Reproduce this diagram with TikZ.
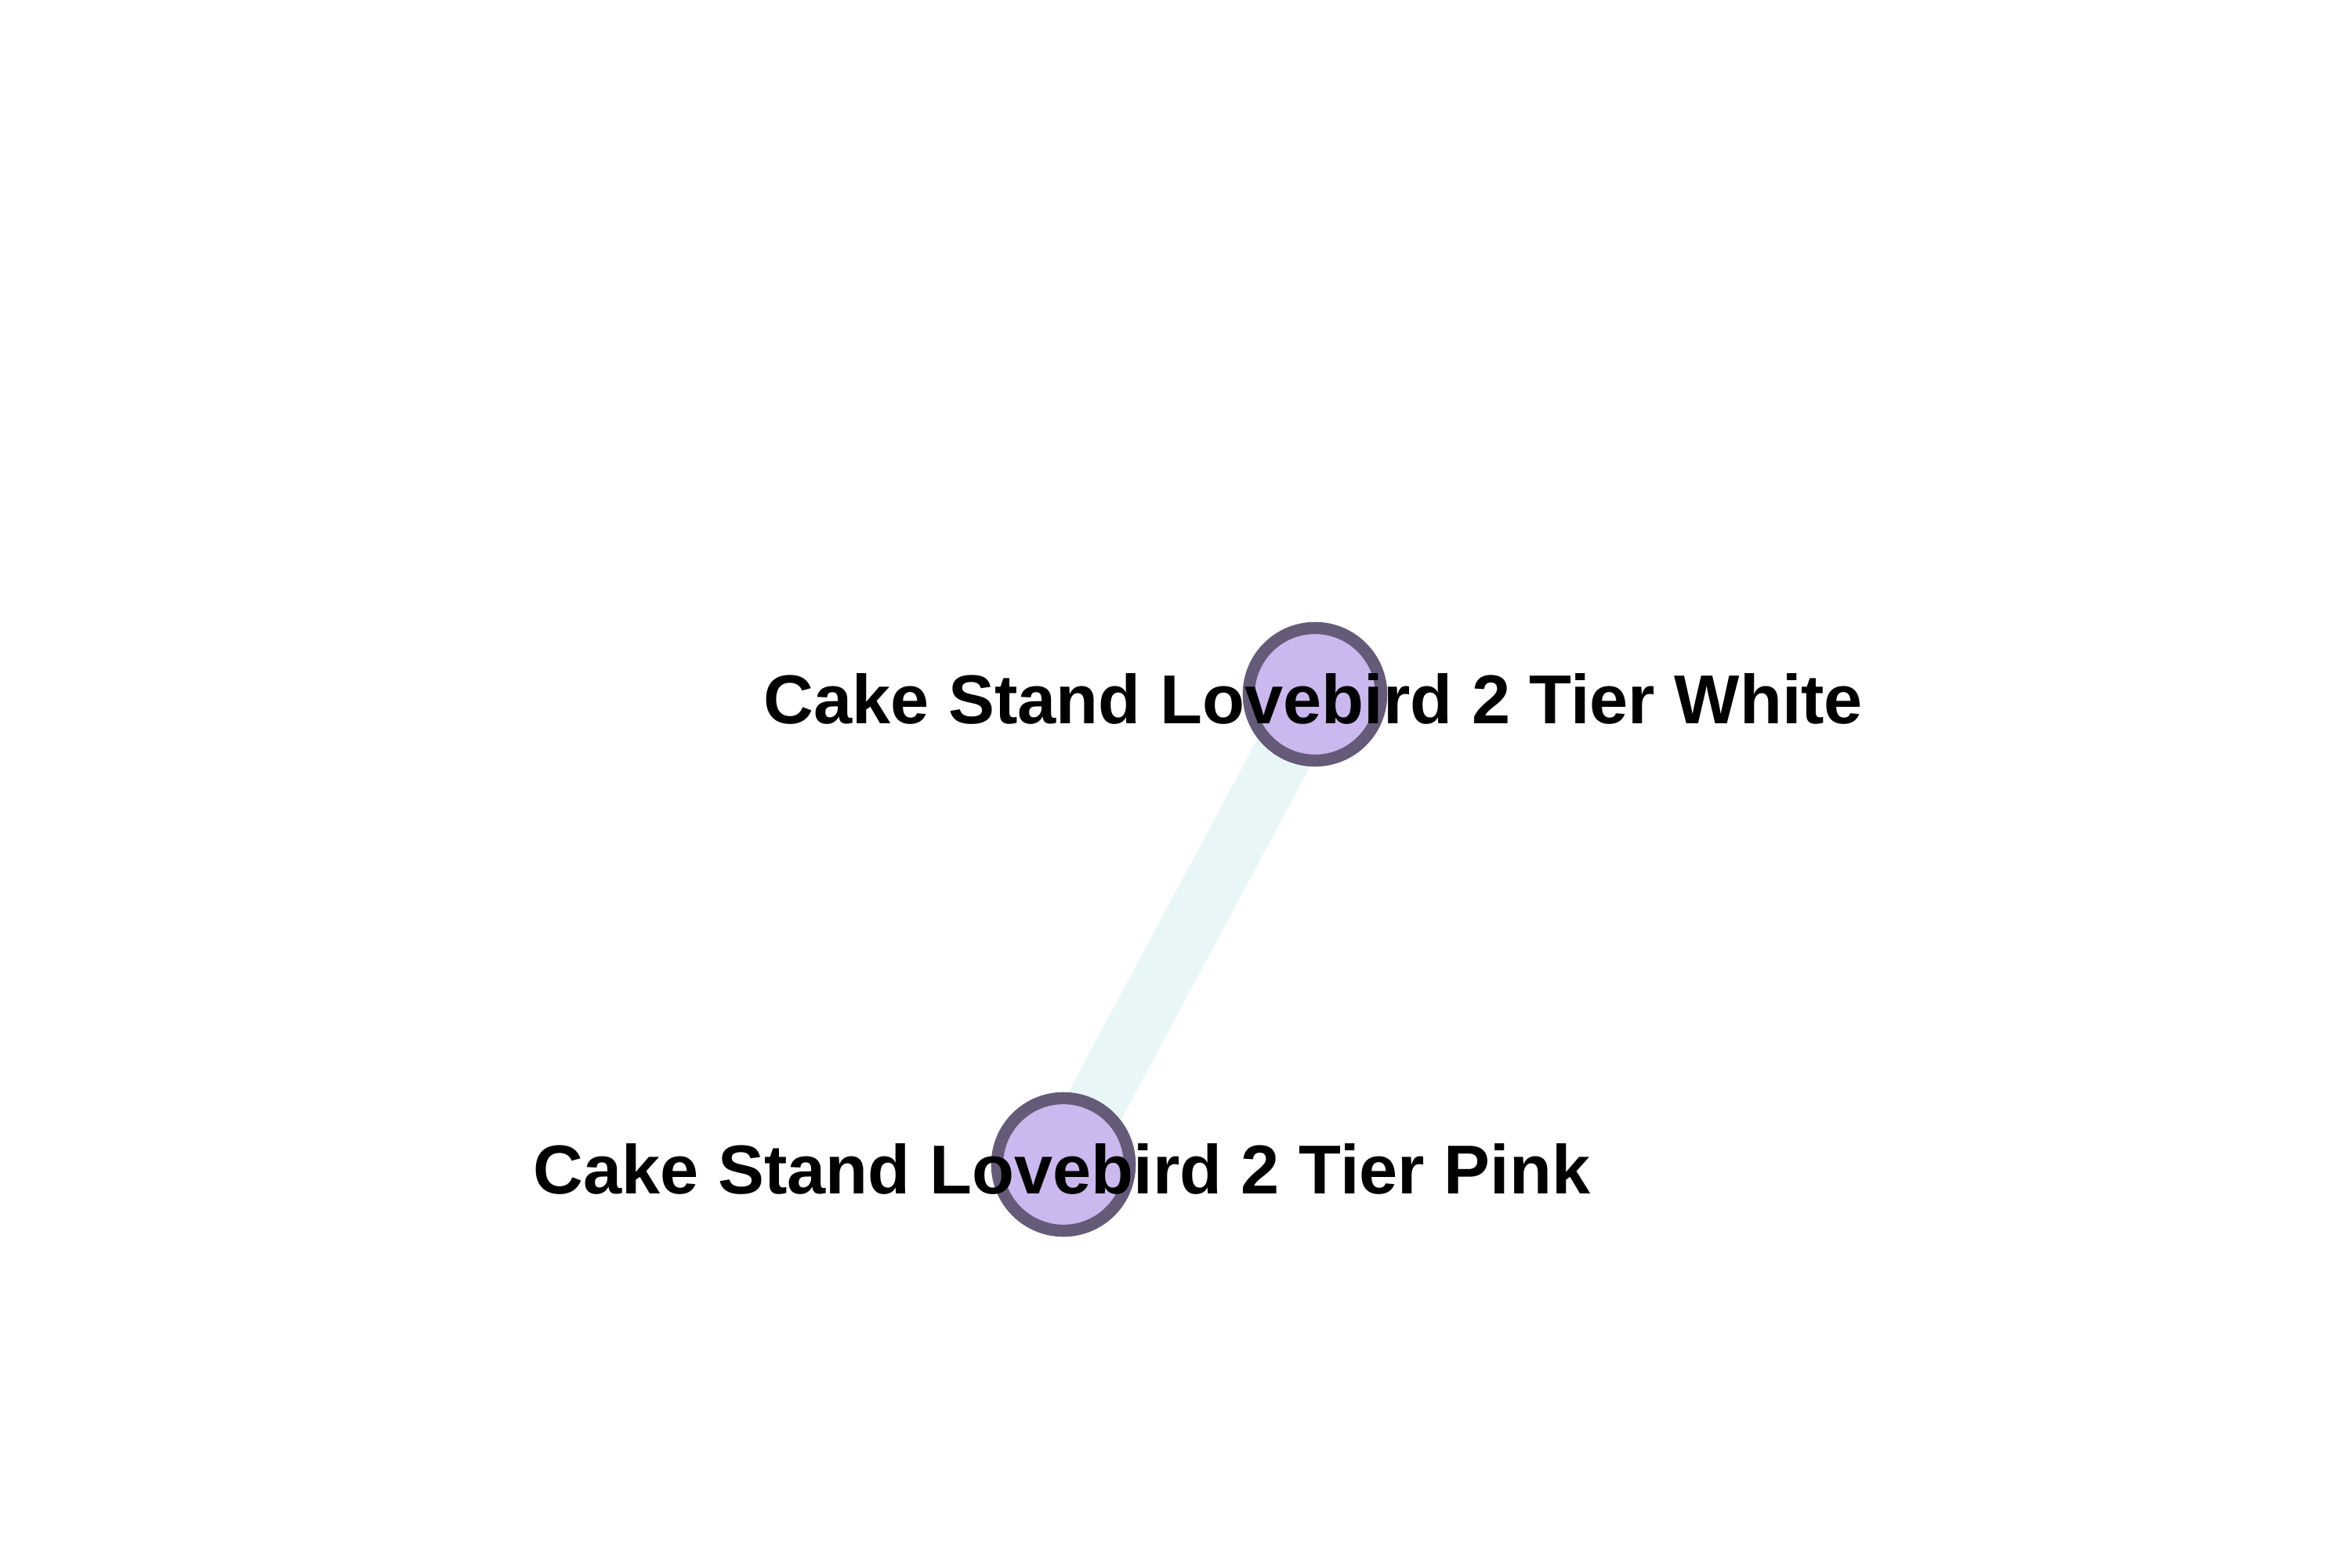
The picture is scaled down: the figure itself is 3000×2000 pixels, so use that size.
\documentclass[tikz,border=0pt]{standalone}
\usepackage{fontspec}
\setmainfont{Liberation Sans}
\definecolor{edgecol}{HTML}{E9F6F8}
\definecolor{nodefill}{HTML}{CBB8EE}
\definecolor{nodeline}{HTML}{655A78}
\begin{document}
\begin{tikzpicture}[x=0.24pt,y=-0.24pt,
  item/.style={circle,draw=nodeline,fill=nodefill,line width=3.7pt,minimum size=40.6pt,inner sep=0pt},
  lbl/.style={font=\fontsize{21.2pt}{24pt}\selectfont\bfseries,text=black,inner sep=0pt,anchor=base},
  link/.style={draw=edgecol,line width=18.2pt}]
\useasboundingbox (0,0) rectangle (3000,2000);
\fill[white] (0,0) rectangle (3000,2000);
\coordinate (cw) at (1678,886);
\coordinate (cp) at (1357,1486);
\draw[link] (cw) -- (cp);
\node[item] (w) at (cw) {};
\node[item] (p) at (cp) {};
\node[lbl] (lw) at (1676,923) {Cake Stand Lovebird 2 Tier White};
\node[lbl] (lp) at (1355,1523) {Cake Stand Lovebird 2 Tier Pink};
\end{tikzpicture}
\end{document}
